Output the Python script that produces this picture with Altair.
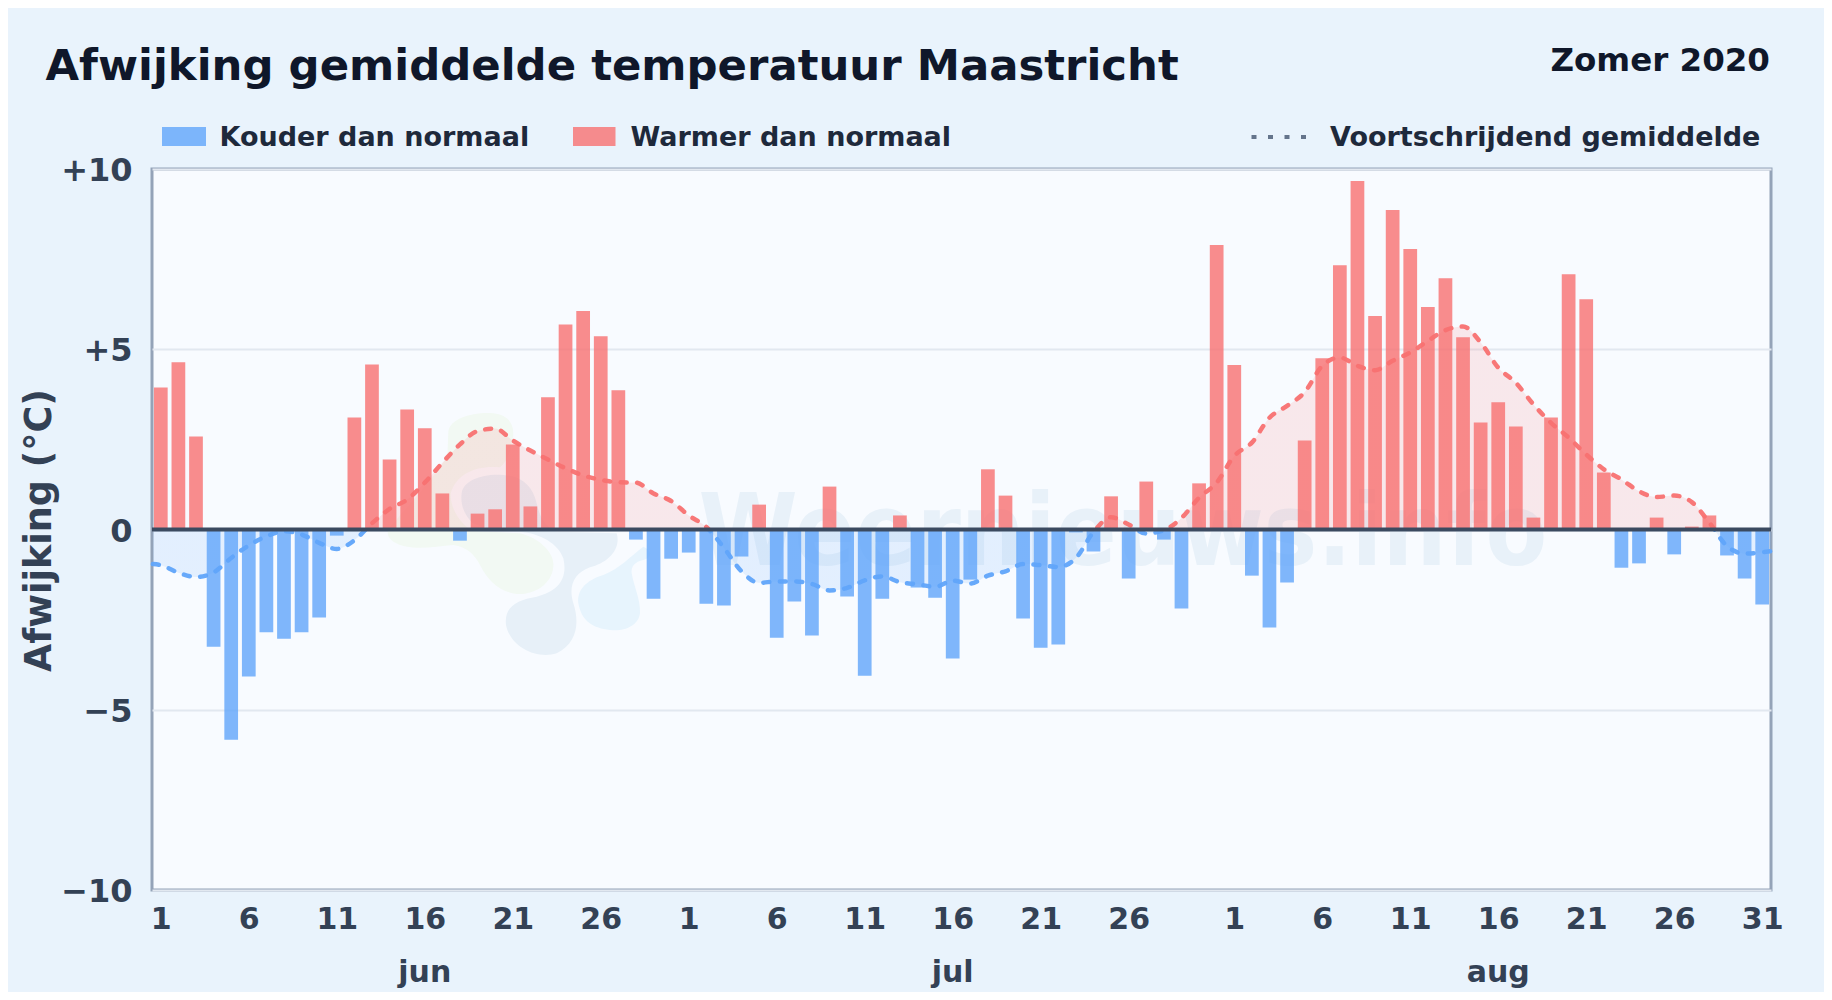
import altair as alt
import pandas as pd

anomaly = [3.94, 4.64, 2.58, -3.25, -5.83, -4.08, -2.85, -3.03, -2.85, -2.44,
           -0.17, 3.11, 4.58, 1.94, 3.33, 2.81, 1.00, -0.31, 0.44, 0.56,
           2.36, 0.64, 3.67, 5.69, 6.06, 5.36, 3.86, -0.28, -1.92, -0.81,
           -0.64, -2.06, -2.11, -0.75, 0.69, -3.00, -2.00, -2.94, 1.19, -1.86,
           -4.06, -1.92, 0.39, -1.61, -1.89, -3.58, -1.39, 1.67, 0.94, -2.47,
           -3.28, -3.19, -0.08, -0.61, 0.92, -1.36, 1.33, -0.28, -2.19, 1.28, 7.89,
           4.56, -1.28, -2.72, -1.47, 2.47, 4.75, 7.33, 9.67, 5.92, 8.86,
           7.78, 6.17, 6.97, 5.33, 2.97, 3.53, 2.86, 0.33, 3.11, 7.08,
           6.39, 1.58, -1.06, -0.94, 0.33, -0.69, 0.08, 0.39, -0.72, -1.36, -2.08]
smooth = [-0.99, -1.20, -1.32, -1.19, -0.79, -0.44, -0.19, -0.05, -0.14, -0.37,
          -0.54, -0.30, 0.17, 0.57, 0.83, 1.30, 1.85, 2.36, 2.73, 2.80,
          2.47, 2.19, 1.94, 1.70, 1.50, 1.38, 1.31, 1.30, 1.00, 0.79,
          0.39, 0.07, -0.51, -1.16, -1.48, -1.44, -1.44, -1.51, -1.69, -1.62,
          -1.41, -1.30, -1.46, -1.52, -1.59, -1.42, -1.50, -1.28, -1.16, -0.96,
          -0.99, -1.04, -0.79, -0.07, 0.34, 0.14, -0.11, -0.02, 0.32, 0.88, 1.30,
          2.04, 2.41, 3.10, 3.43, 3.81, 4.54, 4.77, 4.54, 4.42, 4.68,
          4.91, 5.23, 5.53, 5.63, 5.19, 4.49, 4.07, 3.47, 2.96, 2.55,
          2.08, 1.67, 1.39, 1.06, 0.90, 0.94, 0.76, 0.19, -0.46, -0.67, -0.63]
smooth_start = -0.96
smooth_end = -0.60
tick_days = [1, 6, 11, 16, 21, 26, 31, 36, 41, 46, 51, 56, 62, 67, 72, 77, 82, 87, 92]
months = ["jun", "jul", "aug"]
month_days = [16, 46, 77]
y_ticks = [-10, -5, 0, 5, 10]

FONT = "DejaVu Sans"
BLUE = "#60a5fa"
RED = "#f87171"
PAGE = "#e9f3fc"
PLOT = "#f8fbff"
W, H = 1619, 721
LEFT, TOP = 152, 169   # plot origin in the picture

bars = pd.DataFrame({"day": range(1, 93), "v": anomaly})
bars["x0"] = bars["day"] - 0.5 - 0.39
bars["x1"] = bars["day"] - 0.5 + 0.39
bars["kind"] = ["Warmer" if v > 0 else "Kouder" for v in anomaly]

line = pd.DataFrame({
    "x": [0.05] + [d - 0.5 for d in range(1, 93)] + [92],
    "v": [smooth_start] + smooth + [smooth_end],
})
one = pd.DataFrame({"a": [0]})

xs = alt.Scale(domain=[0, 92], nice=False, zero=False)
ys = alt.Scale(domain=[-10, 10], nice=False)

zero_at = max(line["v"]) / (max(line["v"]) - min(line["v"]))


def split():
    return alt.LinearGradient(
        gradient="linear", x1=0, x2=0, y1=0, y2=1,
        stops=[alt.GradientStop(color=RED, offset=0),
               alt.GradientStop(color=RED, offset=zero_at),
               alt.GradientStop(color=BLUE, offset=zero_at),
               alt.GradientStop(color=BLUE, offset=1)],
    )


def px(x):
    return alt.value(x - LEFT)


def py(y):
    return alt.value(y - TOP)


def label(text, x, y, size, color="#1e293b", align="left", **kw):
    return alt.Chart(one).mark_text(
        font=FONT, fontWeight="bold", fontSize=size, color=color,
        align=align, baseline="middle", clip=False, **kw
    ).encode(x=px(x), y=py(y), text=alt.value(text))


# Faint logo behind the data, paths in a 3x local grid
logo_green = ("M265 125C270 85 340 65 400 70C450 75 470 110 455 160C450 190 440 215 420 232"
              "C350 225 290 250 272 310C270 350 295 395 335 422L480 430C540 445 585 490 580 530"
              "C575 585 520 615 470 612C420 605 385 575 360 525C345 495 320 470 280 465"
              "C220 470 150 485 100 455C75 435 80 420 100 400C150 340 200 290 262 200Z")
logo_grey = ("M305 310C310 270 370 250 430 255C490 260 518 290 530 340C540 385 560 415 590 425"
             "L770 430C785 480 740 520 690 532C640 550 625 590 640 640C660 700 650 760 590 790"
             "C530 810 450 770 438 705C432 650 470 630 530 620C590 605 625 570 610 505"
             "C595 460 540 430 480 425C420 420 380 420 340 400C315 380 300 345 305 310Z")
logo_blue = ("M815 550C822 590 842 630 840 670C835 710 790 725 750 720C700 715 665 695 655 640"
             "C650 600 680 570 730 555C780 535 810 500 850 470C875 480 880 500 850 510"
             "C825 515 812 530 815 550Z")
logo = alt.layer(*[
    alt.Chart(one).mark_point(shape=p, filled=True, size=4 / 9, opacity=1, fill=c, strokeWidth=0, clip=False)
    .encode(x=alt.value(208), y=alt.value(221))
    for p, c in [(logo_green, "#f2f9f3"), (logo_grey, "#e7f0f8"), (logo_blue, "#e7f4fd")]
])

watermark = alt.Chart(one).mark_text(
    font="DejaVu Sans Condensed", fontWeight="bold", fontSize=100, color="#e8f1f9",
    align="center", baseline="alphabetic",
).encode(x=px(1123), y=py(565), text=alt.value("Weernieuws.info"))

area = alt.Chart(line).mark_area(fill=split(), opacity=0.14, interpolate="monotone").encode(
    x=alt.X("x:Q", scale=xs), y=alt.Y("v:Q", scale=ys), y2=alt.datum(0)
)

bar_layer = alt.Chart(bars).mark_rect(opacity=0.8).encode(
    x=alt.X("x0:Q", scale=xs,
            axis=alt.Axis(values=[d - 0.5 for d in tick_days], title=None, grid=False, ticks=False,
                          domain=False, labelFont=FONT, labelFontWeight="bold", labelFontSize=30,
                          labelColor="#334155", labelPadding=29, labelBaseline="middle",
                          labelFlush=False, labelOverlap=False,
                          labelExpr="(datum.value + 0.5) <= 30 ? (datum.value + 0.5) : (datum.value + 0.5) <= 61 ? (datum.value + 0.5 - 30) : (datum.value + 0.5 - 61)")),
    x2="x1:Q",
    y=alt.Y("v:Q", scale=ys,
            axis=alt.Axis(values=y_ticks, title="Afwijking (°C)", grid=True, gridColor="#e2e8f0",
                          gridWidth=2, ticks=False, domain=False, labelFont=FONT,
                          labelFontWeight="bold", labelFontSize=32, labelColor="#334155",
                          labelPadding=20, labelFlush=False, labelOverlap=False, labelOffset=1.5,
                          labelExpr="datum.value > 0 ? '+' + datum.value : datum.value < 0 ? '\u2212' + abs(datum.value) : '0'",
                          titleFont=FONT, titleFontWeight="bold", titleFontSize=36.5, titleColor="#334155",
                          titleAngle=270, titleX=-113, titleY=361, titleBaseline="middle", titleAlign="center")),
    y2=alt.datum(0),
    color=alt.Color("kind:N", scale=alt.Scale(domain=["Kouder", "Warmer"], range=[BLUE, RED]), legend=None),
)

line_layer = alt.Chart(line).mark_line(
    stroke=split(), strokeWidth=4.5, strokeDash=[6, 10.5], strokeCap="round",
    opacity=0.95, interpolate="monotone",
).encode(x=alt.X("x:Q", scale=xs), y=alt.Y("v:Q", scale=ys))

zero_line = alt.Chart(one).mark_rule(color="#3b4a60", strokeWidth=4).encode(y=alt.datum(0, scale=ys))

month_layer = alt.Chart(pd.DataFrame({"m": months, "x": [d - 0.5 for d in month_days]})).mark_text(
    font=FONT, fontWeight="bold", fontSize=30, color="#334155", baseline="middle", clip=False,
).encode(x=alt.X("x:Q", scale=xs), y=py(973), text="m:N")


def swatch(x0, x1, color):
    return alt.Chart(one).mark_rect(color=color, opacity=0.8, clip=False).encode(
        x=px(x0), x2=px(x1), y=py(127), y2=py(146))


dots = alt.Chart(one).mark_rule(color="#64748b", strokeWidth=4, strokeDash=[5, 11.5], clip=False).encode(
    x=px(1251.5), x2=px(1307), y=py(137))

chart = alt.layer(
    logo, watermark, area, bar_layer, line_layer, zero_line, month_layer,
    swatch(162, 206, BLUE), label("Kouder dan normaal", 219.5, 138, 27),
    swatch(573, 615.5, RED), label("Warmer dan normaal", 630.5, 138, 27),
    dots, label("Voortschrijdend gemiddelde", 1330, 138, 27),
    label("Zomer 2020", 1770, 61, 32.5, color="#0f172a", align="right"),
    label("Afwijking gemiddelde temperatuur Maastricht", 45.5, 66.5, 43.4, color="#0f172a"),
).resolve_scale(x="shared", y="shared").properties(
    width=W, height=H, background=PAGE, autosize="none",
    padding={"left": LEFT - 8, "top": TOP - 8, "right": 1816 - (LEFT - 8) - W, "bottom": 984 - (TOP - 8) - H},
).configure_view(fill=PLOT, stroke="#94a3b8", strokeWidth=3)

chart.save("out.html", embed_options={"renderer": "svg", "actions": False})
